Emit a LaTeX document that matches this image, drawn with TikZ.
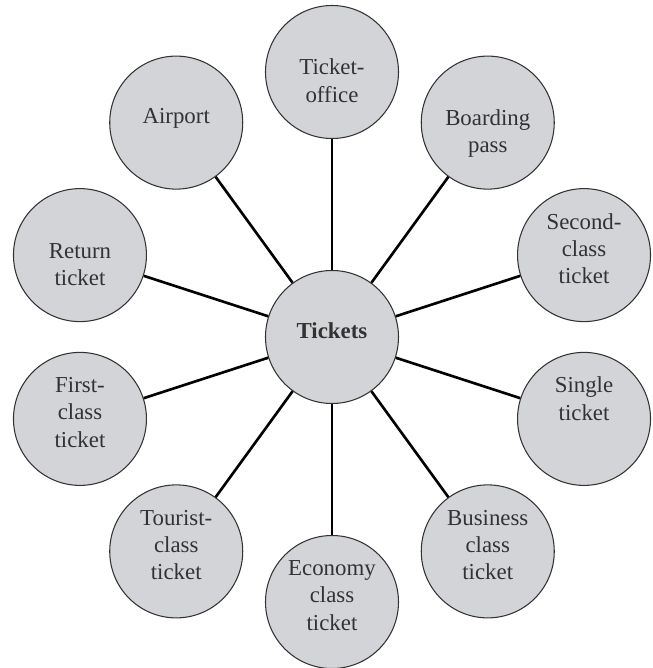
\documentclass[tikz,border=0pt]{standalone}
\usepackage{fontspec}
\setmainfont{Liberation Serif}
\usetikzlibrary{positioning}

\definecolor{bubblegray}{RGB}{211,212,215}
\definecolor{inkgray}{RGB}{50,50,50}

\tikzset{
    bubble/.style={
           circle,
           draw=inkgray, line width=0.6pt,
           fill=bubblegray,
           minimum size=2.66cm,
           inner sep=0pt,
           align=center,
           text=inkgray,
           font=\fontsize{13}{15.5}\selectfont,
           execute at end node={\rule[-7.5pt]{0pt}{0pt}},
           },
    link/.style={
           draw=black, line width=1.5pt,
           },
}

\begin{document}
\begin{tikzpicture}
\useasboundingbox (-6.64,-6.62) rectangle (6.42,6.74);

       \node[bubble, font=\fontsize{13}{15.5}\selectfont\bfseries] (TICKETS) at (0,0) {Tickets};

       \node[bubble] (OFFICE)   at (90:5.3)   {\strut\\Ticket-\\office};
       \node[bubble] (BOARDING) at (54:5.3)   {\strut\\Boarding\\pass};
       \node[bubble] (SECOND)   at (18:5.3)   {Second-\\class\\ticket};
       \node[bubble] (SINGLE)   at (-18:5.3)  {Single\\ticket\\\mbox{}};
       \node[bubble] (BUSINESS) at (-54:5.3)  {Business\\class\\ticket};
       \node[bubble] (ECONOMY)  at (-90:5.3)  {Economy\\class\\ticket};
       \node[bubble] (TOURIST)  at (-126:5.3) {Tourist-\\class\\ticket};
       \node[bubble] (FIRST)    at (-162:5.3) {First-\\class\\ticket};
       \node[bubble] (RETURN)   at (162:5.3)  {\strut\\Return\\ticket};
       \node[bubble] (AIRPORT)  at (126:5.3)  {Airport};

       \draw[link] (TICKETS) -- (OFFICE) ;
       \draw[link] (TICKETS) -- (BOARDING) ;
       \draw[link] (TICKETS) -- (SECOND) ;
       \draw[link] (TICKETS) -- (SINGLE) ;
       \draw[link] (TICKETS) -- (BUSINESS) ;
       \draw[link] (TICKETS) -- (ECONOMY) ;
       \draw[link] (TICKETS) -- (TOURIST) ;
       \draw[link] (TICKETS) -- (FIRST) ;
       \draw[link] (TICKETS) -- (RETURN) ;
       \draw[link] (TICKETS) -- (AIRPORT) ;

\end{tikzpicture}
\end{document}
